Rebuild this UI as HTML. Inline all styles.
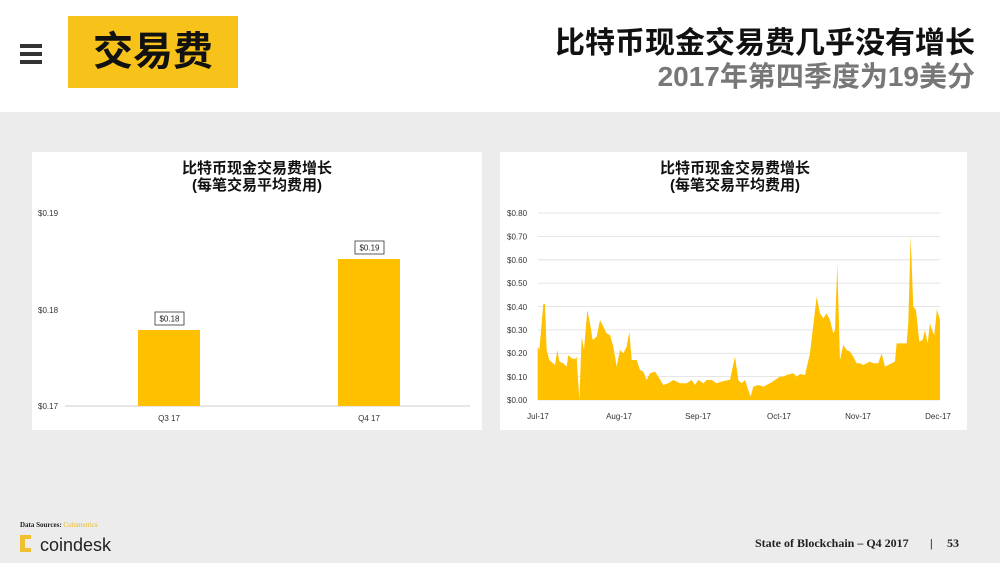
<!DOCTYPE html><html><head><meta charset="utf-8"><style>
body{margin:0;width:1000px;height:563px;overflow:hidden;background:#ececec;font-family:"Liberation Sans","Noto Sans CJK SC",sans-serif;position:relative}
.a{position:absolute}
</style></head><body>
<div class="a" style="left:0;top:0;width:1000px;height:112px;background:#fff"></div>
<div class="a" style="left:20px;top:44px;width:22px;height:4px;background:#333"></div>
<div class="a" style="left:20px;top:52px;width:22px;height:4px;background:#333"></div>
<div class="a" style="left:20px;top:60px;width:22px;height:4px;background:#333"></div>
<div class="a" style="left:68px;top:16px;width:170px;height:72px;background:#f7c21a"></div>
<div class="a" style="left:68px;top:16px;width:170px;height:72px;line-height:72px;text-align:center;font-size:40px;font-weight:bold;color:#111">交易费</div>
<div class="a" style="right:25px;top:26px;font-size:30px;font-weight:bold;color:#111;line-height:36px">比特币现金交易费几乎没有增长</div>
<div class="a" style="right:25px;top:60px;font-size:28px;font-weight:bold;color:#777;line-height:34px">2017年第四季度为19美分</div>

<div class="a" style="left:32px;top:152px;width:450px;height:278px;background:#fff"></div>
<div class="a" style="left:500px;top:152px;width:467px;height:278px;background:#fff"></div>

<svg class="a" style="left:0;top:0" width="1000" height="563" font-family="Liberation Sans, Noto Sans CJK SC, sans-serif">
<g font-size="15" text-anchor="middle" fill="#111" font-weight="bold">
<text x="257" y="173">比特币现金交易费增长</text><text x="257" y="190">(每笔交易平均费用)</text>
<text x="735" y="173">比特币现金交易费增长</text><text x="735" y="190">(每笔交易平均费用)</text>
</g>
<g font-size="8" fill="#333">
<text x="38" y="216">$0.19</text><text x="38" y="313">$0.18</text><text x="38" y="409">$0.17</text>
<text x="169" y="421" text-anchor="middle">Q3 17</text><text x="369" y="421" text-anchor="middle">Q4 17</text>
</g>
<line x1="65" y1="406" x2="470" y2="406" stroke="#ccc"/>
<rect x="138" y="330" width="62" height="76" fill="#ffc000"/>
<rect x="338" y="259" width="62" height="147" fill="#ffc000"/>
<rect x="155" y="312" width="29" height="13" fill="#fff" stroke="#333" stroke-width="0.8"/>
<rect x="355" y="241" width="29" height="13" fill="#fff" stroke="#333" stroke-width="0.8"/>
<g font-size="8" fill="#222" text-anchor="middle"><text x="169.5" y="321.5">$0.18</text><text x="369.5" y="250.5">$0.19</text></g>

<g stroke="#ddd" stroke-width="0.8">
<line x1="538" x2="940" y1="213" y2="213"/><line x1="538" x2="940" y1="236.4" y2="236.4"/><line x1="538" x2="940" y1="259.8" y2="259.8"/><line x1="538" x2="940" y1="283.1" y2="283.1"/><line x1="538" x2="940" y1="306.5" y2="306.5"/><line x1="538" x2="940" y1="329.9" y2="329.9"/><line x1="538" x2="940" y1="353.3" y2="353.3"/><line x1="538" x2="940" y1="376.6" y2="376.6"/><line x1="538" x2="940" y1="400" y2="400"/>
</g>
<g font-size="8" fill="#333">
<text x="507" y="216">$0.80</text><text x="507" y="239.5">$0.70</text><text x="507" y="263">$0.60</text><text x="507" y="286">$0.50</text><text x="507" y="310">$0.40</text><text x="507" y="333">$0.30</text><text x="507" y="356">$0.20</text><text x="507" y="380">$0.10</text><text x="507" y="403">$0.00</text>
<g text-anchor="middle"><text x="538" y="419">Jul-17</text><text x="619" y="419">Aug-17</text><text x="698" y="419">Sep-17</text><text x="779" y="419">Oct-17</text><text x="858" y="419">Nov-17</text><text x="938" y="419">Dec-17</text></g>
</g>
<g transform="translate(500,150) scale(0.3333)">
<polygon fill="#ffc000" points="113,750 113,590 118,600 125,520 130,462 135,462 140,600 148,630 165,645 172,600 178,635 190,640 200,650 205,615 215,625 225,628 230,620 238,750 245,560 252,600 262,480 270,520 278,570 290,560 300,510 310,530 320,550 330,555 340,590 350,650 360,600 370,610 380,590 388,545 395,630 410,630 420,660 430,665 440,690 450,670 465,665 475,680 490,705 505,700 520,690 540,700 560,700 575,690 585,705 595,690 610,700 620,690 635,690 650,700 665,695 685,690 690,690 705,620 715,690 725,700 735,690 745,720 752,740 760,710 775,705 790,710 810,700 825,690 840,680 850,680 860,675 880,670 890,680 900,672 915,675 930,610 950,440 960,490 970,505 980,490 990,510 1000,550 1005,540 1012,342 1020,630 1030,585 1040,600 1050,605 1060,620 1070,640 1080,640 1090,645 1100,640 1110,635 1120,640 1135,640 1145,610 1155,650 1165,645 1175,640 1185,635 1190,580 1205,580 1220,580 1225,520 1232,260 1240,470 1248,480 1258,575 1268,570 1275,540 1283,580 1290,520 1298,545 1303,555 1311,478 1320,510 1320,750"/>
</g>

<text x="20" y="527" font-size="7" font-family="Liberation Serif, serif" font-weight="bold" fill="#222">Data Sources: <tspan fill="#e8b923" font-weight="normal">Coinmetrics</tspan></text>
<rect x="20" y="535" width="5" height="17" fill="#f0c030"/><rect x="25" y="535" width="6" height="4" fill="#f0c030"/><rect x="25" y="548" width="6" height="4" fill="#f0c030"/>
<text x="40" y="551" font-size="18" fill="#222">coindesk</text>
<g font-size="12" font-family="Liberation Serif, serif" font-weight="bold" fill="#222">
<text x="755" y="547">State of Blockchain – Q4 2017</text>
<text x="930" y="547">|</text>
<text x="947" y="547">53</text>
</g>
</svg>
</body></html>
